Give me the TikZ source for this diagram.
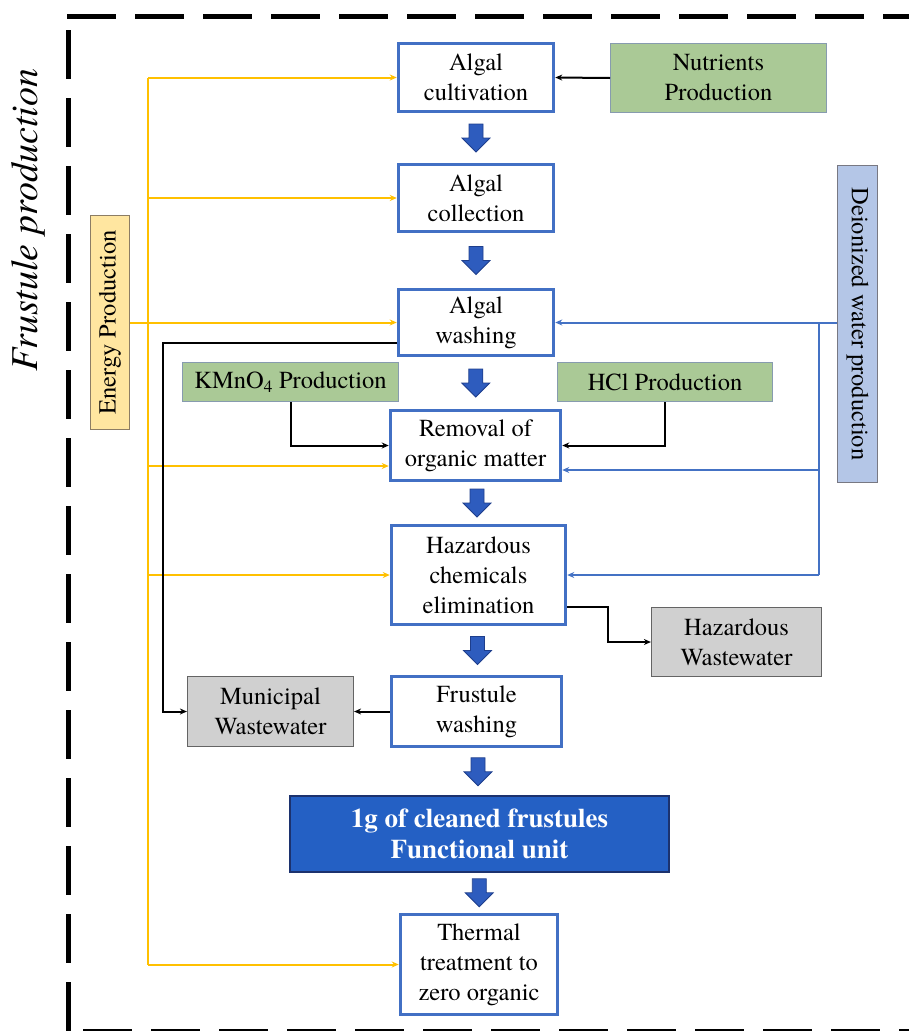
\documentclass[tikz,border=0pt]{standalone}
\usepackage{fontspec}
\IfFontExistsTF{texgyretermes-regular.otf}{%
  \setmainfont{texgyretermes}[Extension=.otf, UprightFont=*-regular, BoldFont=*-bold,
    ItalicFont=*-italic, BoldItalicFont=*-bolditalic]}{}
\usetikzlibrary{arrows.meta,calc}

\definecolor{boxblue}{RGB}{66,112,196}
\definecolor{arrowfill}{RGB}{46,92,190}
\definecolor{arrowline}{RGB}{30,62,140}
\definecolor{funcfill}{RGB}{36,96,196}
\definecolor{funcline}{RGB}{28,50,110}
\definecolor{greenfill}{RGB}{170,201,150}
\definecolor{greenline}{RGB}{135,155,175}
\definecolor{greyfill}{RGB}{208,208,208}
\definecolor{greyline}{RGB}{100,100,100}
\definecolor{yellowfill}{RGB}{255,230,160}
\definecolor{yellowline}{RGB}{140,125,100}
\definecolor{deionfill}{RGB}{180,198,231}
\definecolor{deionline}{RGB}{120,120,130}
\definecolor{energyline}{RGB}{255,192,0}
\definecolor{waterline}{RGB}{68,114,196}

\begin{document}
\begin{tikzpicture}[x=1pt,y=-1pt,
  base/.style={inner sep=0pt, align=center, font=\fontsize{24.5pt}{30pt}\selectfont, text=black},
  stepbox/.style={base, draw=boxblue, line width=3.5pt, fill=white},
  greenbox/.style={base, draw=greenline, line width=1pt, fill=greenfill},
  greybox/.style={base, draw=greyline, line width=1.2pt, fill=greyfill},
  funcbox/.style={base, draw=funcline, line width=1.5pt, fill=funcfill, text=white,
    font=\fontsize{27pt}{31pt}\selectfont\bfseries},
  frame/.style={line width=5pt, dash pattern=on 49pt off 19pt, draw=black},
  tip/.style={-{Stealth[length=7pt,width=6pt]}},
  yl/.style={draw=energyline, line width=2pt},
  wl/.style={draw=waterline, line width=2pt},
  bl/.style={draw=black, line width=2pt},
  bigarrow/.pic={\draw[fill=arrowfill, draw=arrowline, line width=0.8pt]
    (-7,-14) -- (7,-14) -- (7,0) -- (14,0) -- (0,14) -- (-14,0) -- (-7,0) -- cycle;}
]
\useasboundingbox (0,0) rectangle (909,1031);

% dashed frame
\draw[frame] (67,16) -- (915,16);
\draw[frame] (68,30) -- (68,1040);
\draw[frame] (83,1031) -- (915,1031);

% title
\node[inner sep=0pt, rotate=90, font=\fontsize{38pt}{40pt}\selectfont\itshape] (title) at (28,220) {Frustule production};

% main process boxes
\node[stepbox, minimum width=155pt, minimum height=68pt] (cult) at (476,77.5) {Algal\\cultivation};
\node[stepbox, minimum width=155pt, minimum height=67pt] (coll) at (476,198) {Algal\\collection};
\node[stepbox, minimum width=155pt, minimum height=66pt] (wash) at (476,322.5) {Algal\\washing};
\node[stepbox, minimum width=170pt, minimum height=70pt] (remov) at (475.5,445.5) {Removal of\\organic matter};
\node[stepbox, minimum width=174pt, minimum height=99pt] (haz) at (478.5,575) {Hazardous\\chemicals\\elimination};
\node[stepbox, minimum width=170pt, minimum height=70pt] (fwash) at (476.5,711.5) {Frustule\\washing};
\node[funcbox, minimum width=379pt, minimum height=76pt] (func) at (479.5,834) {1g of cleaned frustules\\Functional unit};
\node[stepbox, minimum width=157pt, minimum height=100pt] (therm) at (479,964.5) {Thermal\\treatment to\\zero organic};

% input boxes
\node[greenbox, minimum width=216pt, minimum height=69pt] (nutr) at (718.5,78) {Nutrients\\Production};
\node[greenbox, minimum width=216pt, minimum height=39pt] (kmno) at (290.5,382) {KMnO\textsubscript{4} Production};
\node[greenbox, minimum width=215pt, minimum height=39pt] (hcl) at (665,382) {HCl Production};
\node[base, draw=yellowline, line width=1pt, fill=yellowfill, rotate=90,
  minimum width=214pt, minimum height=39pt] (energy) at (110,322.5) {Energy Production};
\node[base, draw=deionline, line width=1pt, fill=deionfill, rotate=-90,
  minimum width=317pt, minimum height=40pt] (deion) at (857.5,324) {Deionized water production};

% output boxes
\node[greybox, minimum width=170pt, minimum height=69pt] (hazww) at (736.5,642) {Hazardous\\Wastewater};
\node[greybox, minimum width=166pt, minimum height=70pt] (munww) at (270.5,711.5) {Municipal\\Wastewater};

% block arrows of the main flow
\pic at ($(cult.south)!0.5!(coll.north)$) {bigarrow};
\pic at ($(coll.south)!0.5!(wash.north)$) {bigarrow};
\pic at ($(wash.south)!0.5!(remov.north)$) {bigarrow};
\pic at ($(remov.south)!0.5!(haz.north)$) {bigarrow};
\pic at ($(haz.south)!0.5!(fwash.north)$) {bigarrow};
\pic at ($(fwash.south)!0.5!(func.north)$) {bigarrow};
\pic at ($(func.south)!0.5!(therm.north)$) {bigarrow};

% helper coordinates
\coordinate (remYin) at ([yshift=-20.5pt]remov.west);
\coordinate (remBin) at ([yshift=-24.5pt]remov.east);
\coordinate (hazOut) at ([yshift=-32pt]haz.east);
\coordinate (washOut) at ([yshift=-20.5pt]wash.west);

% energy supply (yellow)
\coordinate (ev) at (148,77.5);
\draw[yl] (ev) -- (ev |- therm.west);
\draw[yl,tip] (ev) -- (cult.west);
\draw[yl,tip] (ev |- coll.west) -- (coll.west);
\draw[yl,tip] (energy.south) -- (wash.west);
\draw[yl,tip] (ev |- remYin) -- (remYin);
\draw[yl,tip] (ev |- haz.west) -- (haz.west);
\draw[yl,tip] (ev |- therm.west) -- (therm.west);

% deionized water (blue)
\coordinate (dv) at (819,322.5);
\draw[wl,tip] (deion.south |- wash.east) -- (wash.east);
\draw[wl] (dv) -- (dv |- haz.east);
\draw[wl,tip] (dv |- remBin) -- (remBin);
\draw[wl,tip] (dv |- haz.east) -- (haz.east);

% chemicals and wastewater (black)
\draw[bl,tip] (nutr.west) -- (cult.east);
\draw[bl,tip] (kmno.south) |- (remov.west);
\draw[bl,tip] (hcl.south) |- (remov.east);
\draw[bl,tip] (hazOut) -- ++(41,0) |- (hazww.west);
\draw[bl,tip] (washOut) -- ++(-234,0) |- (munww.west);
\draw[bl,tip] (fwash.west) -- (munww.east);
\end{tikzpicture}
\end{document}
